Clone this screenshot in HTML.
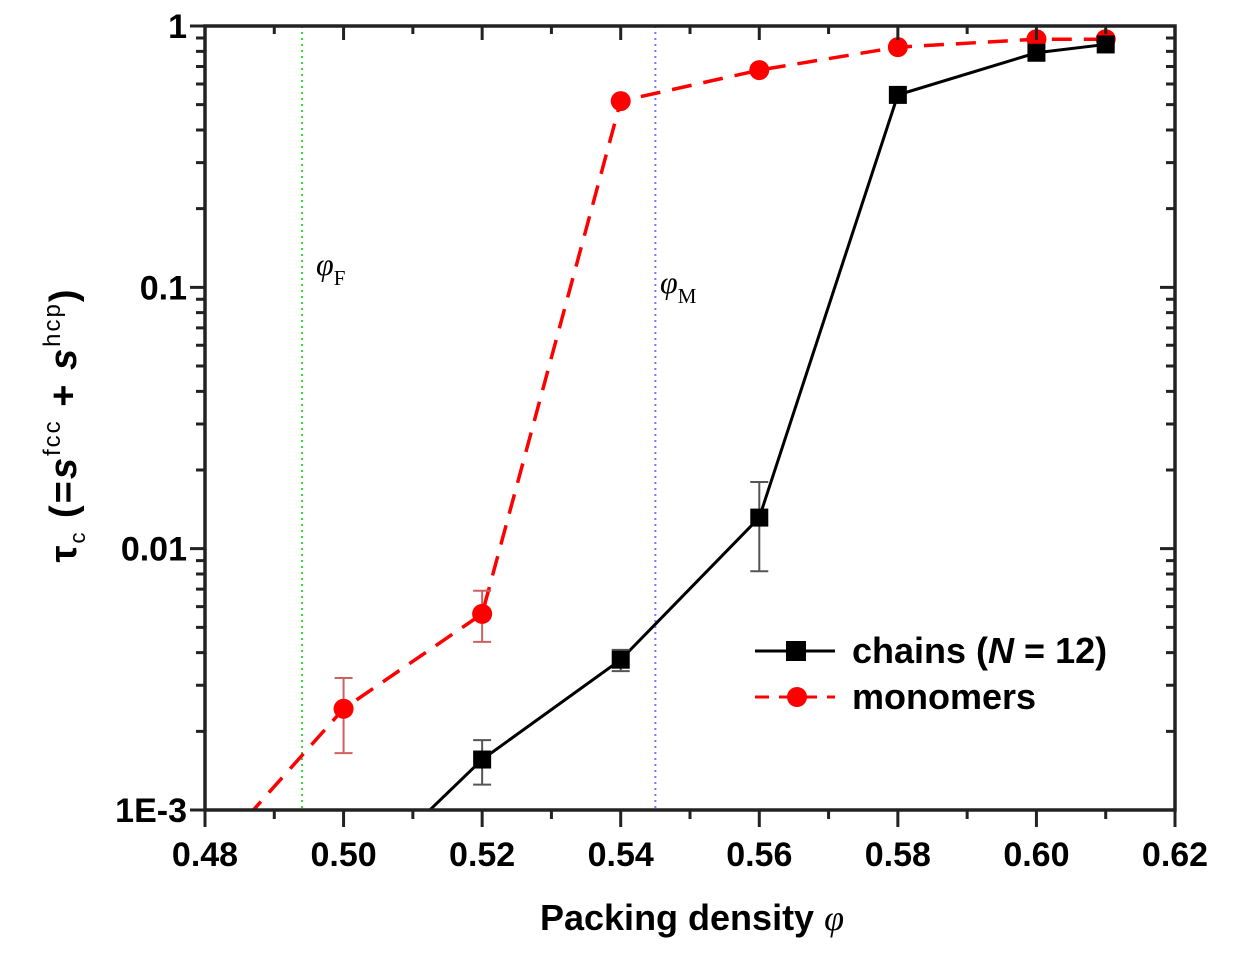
<!DOCTYPE html>
<html><head><meta charset="utf-8"><style>
html,body{margin:0;padding:0;background:#fff;}
svg{display:block;font-family:"Liberation Sans",sans-serif;}
</style></head><body>
<svg id="chart" width="1245" height="965" xmlns="http://www.w3.org/2000/svg">
<defs><clipPath id="pc"><rect x="205" y="26" width="970" height="784"/></clipPath></defs>
<g id="grid"></g>
<g id="series" clip-path="url(#pc)"></g>
<g id="marks"></g>
<g id="axes"></g>
<text x="316" y="275" font-family="Liberation Serif,serif" font-style="italic" font-size="32">φ<tspan font-style="normal" font-size="21" dy="10">F</tspan></text>
<text x="660" y="293" font-family="Liberation Serif,serif" font-style="italic" font-size="32">φ<tspan font-style="normal" font-size="21" dy="10">M</tspan></text>
<text x="692" y="930" text-anchor="middle" font-size="36" font-weight="bold">Packing density <tspan font-family="Liberation Serif,serif" font-style="italic" font-weight="normal">φ</tspan></text>
<text transform="translate(76,425) rotate(-90)" text-anchor="middle" font-size="38" font-weight="bold" letter-spacing="2">τ<tspan font-size="22" font-weight="normal" dy="9">c</tspan><tspan dy="-9"> (=</tspan><tspan font-style="italic">s</tspan><tspan font-size="24" font-weight="normal" dy="-16">fcc</tspan><tspan dy="16"> + </tspan><tspan font-style="italic">s</tspan><tspan font-size="24" font-weight="normal" dy="-16">hcp</tspan><tspan dy="16">)</tspan></text>
<g>
<line x1="755" y1="651" x2="835" y2="651" stroke="#000" stroke-width="3"/>
<rect x="786" y="641" width="20" height="20" fill="#000"/>
<text x="852" y="663" font-size="36" font-weight="bold">chains (<tspan font-style="italic">N</tspan> = 12)</text>
<line x1="755" y1="697" x2="835" y2="697" stroke="#f00" stroke-width="3" stroke-dasharray="14,10"/>
<circle cx="797" cy="697" r="10" fill="#f00"/>
<text x="852" y="709" font-size="36" font-weight="bold">monomers</text>
</g>
</svg>
<script>
const xTicks=[0.48,0.50,0.52,0.54,0.56,0.58,0.60,0.62];
const xTickLabels=["0.48","0.50","0.52","0.54","0.56","0.58","0.60","0.62"];
const yTicks=[0.001,0.01,0.1,1];
const yTickLabels=["1E-3","0.01","0.1","1"];
const monoX=[0.48,0.50,0.52,0.54,0.56,0.58,0.60,0.61];
const monoY=[0.00062,0.00244,0.00563,0.516,0.678,0.83,0.89,0.89];
const monoErrLo=[null,0.00165,0.0044,null,null,null,null,null];
const monoErrHi=[null,0.0032,0.0069,null,null,null,null,null];
const chainX=[0.50,0.52,0.54,0.56,0.58,0.60,0.61];
const chainY=[0.00048,0.00156,0.00376,0.01315,0.545,0.79,0.85];
const chainErrLo=[null,0.00125,0.0034,0.0082,null,null,null];
const chainErrHi=[null,0.00185,0.0041,0.018,null,null,null];
const vLines=[0.494,0.545];
const L=205,R=1175,T=26,B=810;
const X=v=>L+(v-0.48)/(0.62-0.48)*(R-L);
const Y=v=>B-(Math.log10(v)+3)/3*(B-T);
const NS="http://www.w3.org/2000/svg";
function mk(p,tag,a){const e=document.createElementNS(NS,tag);for(const k in a)e.setAttribute(k,a[k]);document.getElementById(p).appendChild(e);return e;}
const vcol=["#33dd33","#7777ff"];
vLines.forEach((v,i)=>{const e=mk("grid","line",{x1:X(v),x2:X(v),y1:T,y2:B,stroke:vcol[i],"stroke-width":2,"stroke-dasharray":"2,4"});

});
let p=monoX.map((x,i)=>X(x)+","+Y(monoY[i])).join(" ");
let e=mk("series","polyline",{points:p,fill:"none",stroke:"#f00","stroke-width":3.5,"stroke-dasharray":"20,12"});


p=chainX.map((x,i)=>X(x)+","+Y(chainY[i])).join(" ");
e=mk("series","polyline",{points:p,fill:"none",stroke:"#000","stroke-width":3});


function err(xs,lo,hi,col,name){xs.forEach((x,i)=>{if(lo[i]==null)return;const cx=X(x);
const g=mk("series","path",{d:`M${cx},${Y(lo[i])}V${Y(hi[i])}M${cx-9},${Y(lo[i])}h18M${cx-9},${Y(hi[i])}h18`,stroke:col,"stroke-width":2,fill:"none"});

});}
err(monoX,monoErrLo,monoErrHi,"#d06060","monomer-error-bar");
err(chainX,chainErrLo,chainErrHi,"#555","chain-error-bar");
monoX.forEach((x,i)=>{if(monoY[i]<0.001)return;const c=mk("marks","circle",{cx:X(x),cy:Y(monoY[i]),r:10,fill:"#f00"});

});
chainX.forEach((x,i)=>{if(chainY[i]<0.001)return;const r=mk("marks","rect",{x:X(x)-9,y:Y(chainY[i])-9,width:18,height:18,fill:"#000"});

});
e=mk("axes","rect",{x:L,y:T,width:R-L,height:B-T,fill:"none",stroke:"#222","stroke-width":3.5});


let d="";
xTicks.forEach((v,i)=>{const x=X(v);d+=`M${x},${B}v17M${x},${T}v14`;
if(i<xTicks.length-1){const m=X(v+0.01);d+=`M${m},${B}v9M${m},${T}v8`;}
const t=mk("axes","text",{x:x,y:B+56,"text-anchor":"middle","font-size":34,"font-weight":"bold"});t.textContent=xTickLabels[i];

});
yTicks.forEach((v,i)=>{const y=Y(v);d+=`M${L},${y}h-15M${R},${y}h-15`;
if(i<yTicks.length-1)for(let k=2;k<10;k++){const yy=Y(v*k);d+=`M${L},${yy}h-9M${R},${yy}h-9`;}
const t=mk("axes","text",{x:L-18,y:y+12,"text-anchor":"end","font-size":34,"font-weight":"bold"});t.textContent=yTickLabels[i];

});
e=mk("axes","path",{d:d,stroke:"#222","stroke-width":3,fill:"none"});


</script>
</body></html>
